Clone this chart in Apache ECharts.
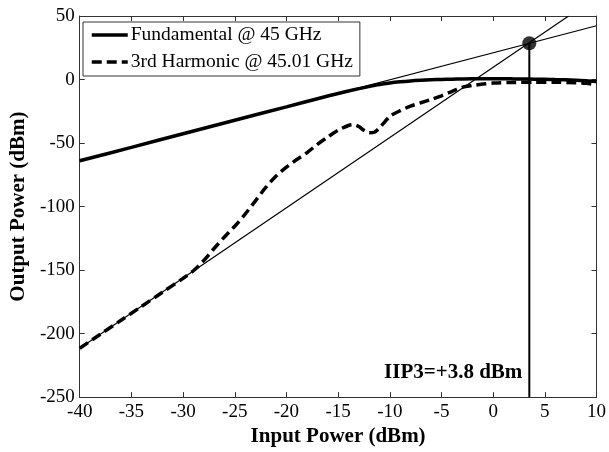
<!DOCTYPE html>
<html><head><meta charset="utf-8">
<script src="https://cdn.jsdelivr.net/npm/echarts@6/dist/echarts.min.js"></script>
<style>html,body{margin:0;padding:0;background:#fff}#c{width:609px;height:452px}</style>
</head><body><div id="c"></div>
<script>
const xTicks = [-40, -35, -30, -25, -20, -15, -10, -5, 0, 5, 10];
const yTicks = [-250, -200, -150, -100, -50, 0, 50];

const fundX = [-40,-35,-30,-25,-20,-17,-15,-13,-12,-11,-10,-9,-8,-7,-6,-5,-4,-3,-2,-1,0,1,2,3,4,5,6,7,8,9,10];
const fundY = [-64,-53.4,-42.7,-32.1,-21.5,-15.1,-11,-7.2,-5.5,-3.9,-2.7,-1.8,-1.1,-0.6,-0.2,0.1,0.3,0.5,0.6,0.6,0.6,0.6,0.5,0.4,0.3,0.2,0,-0.2,-0.5,-0.9,-1.6];

const harmX = [-40,-38,-36,-34,-32,-30,-29,-28,-27,-26,-25,-24,-23,-22,-21,-20,-19,-18,-17,-16,-15,-14,-13.5,-13,-12.5,-12,-11.5,-11,-10.5,-10,-9,-8,-7,-6,-5,-4,-3,-2,-1,0,2,4,6,8,9,10];
const harmY = [-211.5,-200.5,-189.5,-178.5,-167.5,-156.5,-150.5,-142.5,-133,-124,-115.5,-106,-95.5,-85,-76,-69,-63,-57.5,-51,-45.3,-40,-36.2,-35.5,-37,-40,-42,-41.5,-38,-33.5,-29,-24.5,-21,-18.3,-15.7,-12.8,-9.5,-6.2,-4.7,-3.6,-2.8,-2.3,-2.2,-2.2,-2.5,-3,-4];

// extrapolated (thin) lines, end points
const fundFitX = [-40, 10];
const fundFitY = [-64, 42.3];
const harmFitX = [-40, 7.3];
const harmFitY = [-211.5, 50];

const iip3X = 3.5;
const iip3Y = 28.5;
const iip3Label = 'IIP3=+3.8 dBm';

const seriesNames = ['Fundamental @ 45 GHz', '3rd Harmonic @ 45.01 GHz'];

const zip = (a, b) => a.map((v, i) => [v, b[i]]);
const serif = 'Liberation Serif';

const chart = echarts.init(document.getElementById('c'), null, {renderer: 'canvas'});
const axisCommon = {
  axisLine: {show: true, onZero: false, lineStyle: {color: '#333', width: 1}},
  axisTick: {show: true, inside: true, length: 5, lineStyle: {color: '#333', width: 1}},
  splitLine: {show: false}
};
chart.setOption({
  animation: false,
  backgroundColor: '#fff',
  grid: {left: 77, right: 10, top: 16, bottom: 53, containLabel: false},
  xAxis: [
    Object.assign({type: 'value', min: xTicks[0], max: xTicks[xTicks.length-1], interval: 5,
      name: 'Input Power (dBm)', nameLocation: 'middle', nameGap: 26,
      nameTextStyle: {fontFamily: serif, fontWeight: 'bold', fontSize: 21, color: '#000'},
      axisLabel: {fontFamily: serif, fontSize: 19, color: '#000', margin: 5}}, axisCommon),
    Object.assign({type: 'value', position: 'top', min: xTicks[0], max: xTicks[xTicks.length-1], interval: 5,
      axisLabel: {show: false}}, axisCommon)
  ],
  yAxis: [
    Object.assign({type: 'value', min: yTicks[0], max: yTicks[yTicks.length-1], interval: 50,
      name: 'Output Power (dBm)', nameLocation: 'middle', nameGap: 41,
      nameTextStyle: {fontFamily: serif, fontWeight: 'bold', fontSize: 21, color: '#000'},
      axisLabel: {fontFamily: serif, fontSize: 19, color: '#000', margin: 5}}, axisCommon),
    Object.assign({type: 'value', position: 'right', min: yTicks[0], max: yTicks[yTicks.length-1], interval: 50,
      axisLabel: {show: false}}, axisCommon)
  ],
  legend: {
    data: seriesNames,
    orient: 'vertical', left: 83, top: 22,
    backgroundColor: '#fff', borderColor: '#333', borderWidth: 1,
    padding: [3, 7, 4, 7], itemGap: 7, itemWidth: 36, itemHeight: 20,
    itemStyle: {opacity: 0},
    lineStyle: {width: 3.5, color: '#000'},
    textStyle: {fontFamily: serif, fontSize: 19.5, color: '#000', padding: [0, 0, 0, -2]}
  },
  series: [
    {name: 'fundFit', type: 'line', data: zip(fundFitX, fundFitY), symbol: 'none',
      lineStyle: {color: '#000', width: 1.2}, z: 2, silent: true},
    {name: 'harmFit', type: 'line', data: zip(harmFitX, harmFitY), symbol: 'none',
      lineStyle: {color: '#000', width: 1.2}, z: 2, silent: true},
    {name: seriesNames[0], type: 'line', data: zip(fundX, fundY), symbol: 'none', smooth: 0.3,
      lineStyle: {color: '#000', width: 3.5}, itemStyle: {color: '#000'}, z: 3},
    {name: seriesNames[1], type: 'line', data: zip(harmX, harmY), symbol: 'none', smooth: 0.3,
      lineStyle: {color: '#000', width: 3.5, type: [10, 5]}, itemStyle: {color: '#000'}, z: 3},
    {name: 'iip3Line', type: 'line', data: [[iip3X, iip3Y], [iip3X, yTicks[0]]], symbol: 'none',
      lineStyle: {color: '#000', width: 2}, z: 4},
    {name: 'iip3Dot', type: 'scatter', data: [[iip3X, iip3Y]], symbolSize: 14,
      itemStyle: {color: '#000'}, z: 5},
    {name: 'iip3Text', type: 'scatter', data: [[iip3X, yTicks[0]]], symbolSize: 0,
      itemStyle: {color: '#000', opacity: 1}, z: 6,
      label: {show: true, formatter: iip3Label, position: 'left', distance: 7, offset: [0, -25],
        fontFamily: serif, fontWeight: 'bold', fontSize: 21, color: '#000', opacity: 1}}
  ]
});
</script></body></html>
